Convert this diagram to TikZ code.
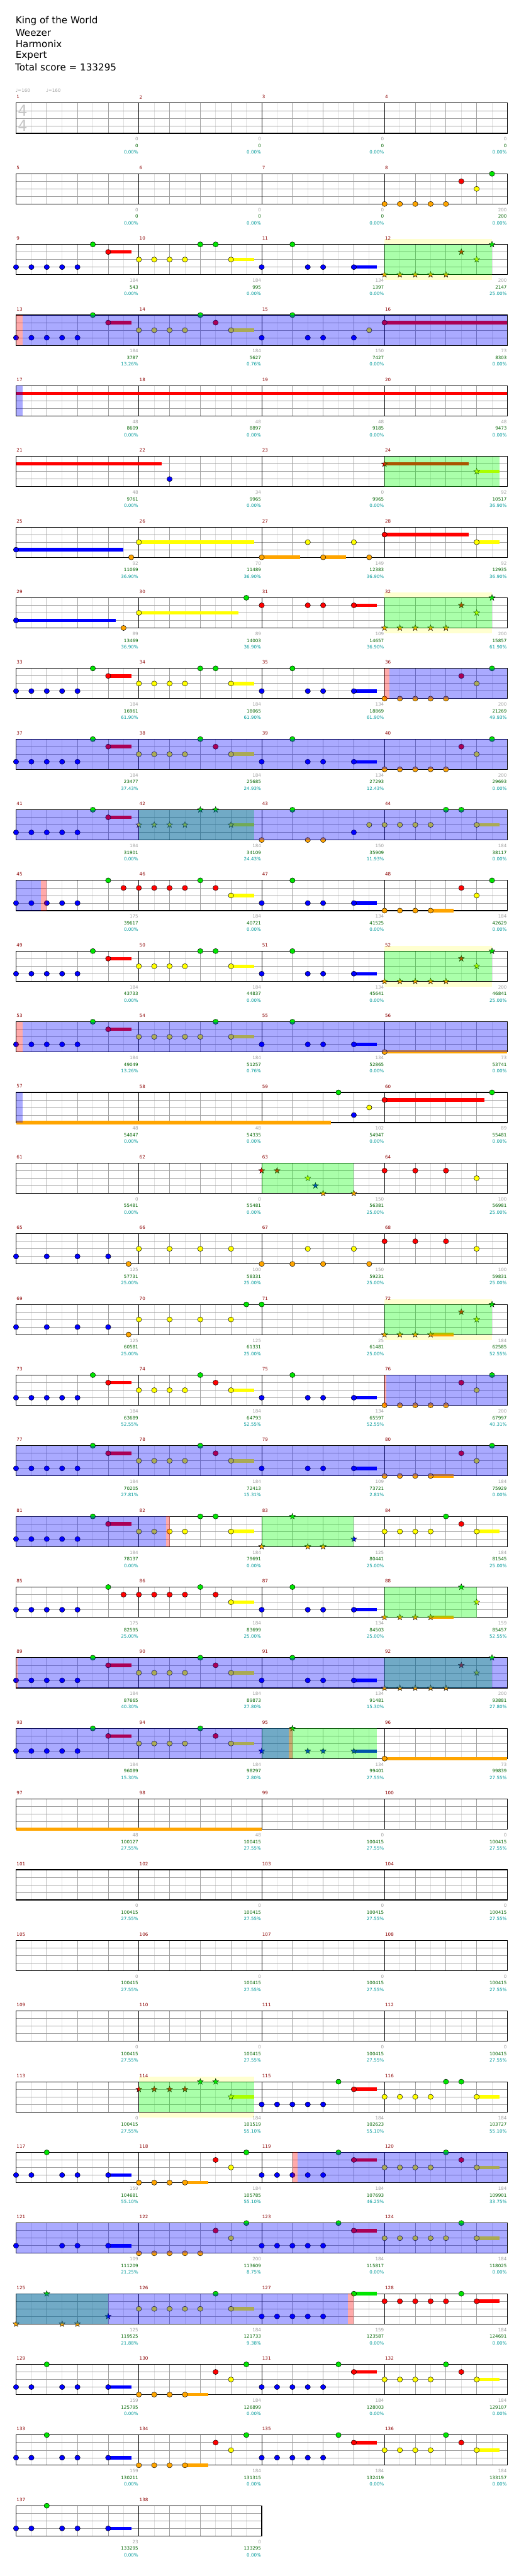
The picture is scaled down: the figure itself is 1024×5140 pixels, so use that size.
\documentclass[tikz,border=0pt]{standalone}
\usepackage{fontspec}
\setmainfont{DejaVu Sans}

\definecolor{noteG}{RGB}{0,230,0}
\definecolor{noteR}{RGB}{255,0,0}
\definecolor{noteY}{RGB}{255,255,0}
\definecolor{noteB}{RGB}{0,0,255}
\definecolor{noteO}{RGB}{255,165,0}
\definecolor{gridlight}{RGB}{224,224,224}
\definecolor{gridmid}{RGB}{160,160,160}
\definecolor{barred}{RGB}{139,0,0}
\definecolor{scoregray}{RGB}{160,160,160}
\definecolor{scoregreen}{RGB}{0,100,0}
\definecolor{scoreteal}{RGB}{0,153,153}
\definecolor{phraseyellow}{RGB}{255,255,208}

\newcommand{\labfont}{\fontsize{9}{10}\selectfont}
\def\laneG{0}\def\laneR{1}\def\laneY{2}\def\laneB{3}\def\laneO{4}

\tikzset{
  notehead/.style={draw=black, line width=0.6pt},
  starhead/.style={draw=black, line width=0.5pt, line join=miter},
  eighthline/.style={draw=gridlight, line width=0.8pt},
  beatline/.style={draw=gridmid, line width=0.9pt},
  laneline/.style={draw=gridmid, line width=1pt},
  barline/.style={draw=black, line width=0.9pt},
  staffframe/.style={draw=black, line width=1.4pt},
  titletext/.style={anchor=west, inner sep=0pt, font=\fontsize{19}{23}\selectfont},
  tempotext/.style={anchor=west, inner sep=0pt, font=\labfont, text=scoregray},
  barnum/.style={anchor=west, inner sep=0pt, font=\labfont, text=barred},
  gainlbl/.style={anchor=east, inner sep=0pt, font=\labfont, text=scoregray},
  totallbl/.style={anchor=east, inner sep=0pt, font=\labfont, text=scoregreen},
  pctlbl/.style={anchor=east, inner sep=0pt, font=\labfont, text=scoreteal}
}

% row layout: staff top of row r, lanes 15.07 apart, eighths 30.625 wide
\newcommand{\setrow}[1]{\pgfmathsetmacro{\rowtop}{205.7+141*#1}}
\newcommand{\staff}[1]{%
  \pgfmathsetmacro{\rowend}{32+245*#1}%
  \pgfmathtruncatemacro{\nlast}{8*#1-1}%
  \fill[white] (32,\rowtop) rectangle (\rowend,\rowtop+60.3);
  \foreach \e in {1,3,...,\nlast} \draw[eighthline] ({32+30.625*\e},\rowtop) -- ++(0,60.3);
  \foreach \e in {2,4,...,\nlast} \draw[beatline] ({32+30.625*\e},\rowtop) -- ++(0,60.3);
  \foreach \l in {1,2,3} \draw[laneline] (32,{\rowtop+15.07*\l}) -- (\rowend,{\rowtop+15.07*\l});
  \foreach \e in {8,16,...,\nlast} \draw[barline] ({32+30.625*\e},\rowtop) -- ++(0,60.3);
  \draw[staffframe] (32,\rowtop) rectangle (\rowend,\rowtop+60.3);}
\newcommand{\gems}[2]{\foreach \q in {#2} {\filldraw[fill=note#1, notehead] ({32+30.625*\q},{\rowtop+15.07*\csname lane#1\endcsname}) circle[x radius=5.3, y radius=5.1];}}
\newcommand{\stargems}[2]{\foreach \q in {#2} {\filldraw[fill=note#1, starhead] plot[variable=\vk, samples at={0,...,9}] ({32+30.625*\q+(4.45+1.85*cos(180*\vk))*sin(36*\vk)},{\rowtop+15.07*\csname lane#1\endcsname-(4.45+1.85*cos(180*\vk))*cos(36*\vk)}) -- cycle;}}
\newcommand{\sustail}[3]{\fill[note#1] ({32+30.625*(#2)},{\rowtop+15.07*\csname lane#1\endcsname-3.4}) rectangle ({32+30.625*(#3)},{\rowtop+15.07*\csname lane#1\endcsname+3.4});}
\newcommand{\sustain}[3]{\sustail{#1}{#2}{#3}\gems{#1}{#2}}
\newcommand{\starsustain}[3]{\sustail{#1}{#2}{#3}\stargems{#1}{#2}}
\newcommand{\phraseback}[2]{\fill[phraseyellow] ({32+30.625*(#1)},\rowtop-10.7) rectangle ({32+30.625*(#2)},\rowtop+71.3);}
\newcommand{\phrasezone}[2]{\fill[green, fill opacity=0.333] ({32+30.625*(#1)},\rowtop) rectangle ({32+30.625*(#2)},\rowtop+60.3);}
\newcommand{\odzone}[2]{\fill[blue, fill opacity=0.333] ({32+30.625*(#1)},\rowtop) rectangle ({32+30.625*(#2)},\rowtop+60.3);}
\newcommand{\cuezone}[2]{\fill[red, fill opacity=0.333] ({32+30.625*(#1)},\rowtop) rectangle ({32+30.625*(#2)},\rowtop+60.3);}
\newcommand{\barlabels}[2]{%
  \foreach \gain/\total/\pct [count=\m from 0] in {#2} {
    \pgfmathtruncatemacro{\barno}{#1+\m}
    \node[barnum] (bar\barno) at ({33+245*\m},\rowtop-12) {\barno};
    \node[gainlbl] (gain\barno) at ({31+245*(\m+1)},\rowtop+72) {\gain};
    \node[totallbl] (total\barno) at ({31+245*(\m+1)},\rowtop+85.3) {\total};
    \node[pctlbl] (pct\barno) at ({31+245*(\m+1)},\rowtop+98.3) {\pct};
  }}

\begin{document}
\begin{tikzpicture}[x=1pt,y=-1pt]
\fill[white] (0,0) rectangle (1024,5140);
\useasboundingbox (0,0) rectangle (1024,5140);

% Header
\node[titletext] (song) at (31,42) {King of the World};
\node[titletext] (artist) at (31,65) {Weezer};
\node[titletext] (author) at (31,88) {Harmonix};
\node[titletext] (level) at (31,111) {Expert};
\node[titletext] (score) at (30,134) {Total score = 133295};
\node[tempotext] (tempo1) at (31,181) {♩=160};
\node[tempotext] (tempo2) at (92,181) {♩=160};

% Bars 1-4
\setrow{0}
\staff{4}
\node[inner sep=0pt, font=\fontsize{30}{30}\selectfont, text=gray!45] (meter1) at (45,221) {4};
\node[inner sep=0pt, font=\fontsize{30}{30}\selectfont, text=gray!45] (meter2) at (45,251) {4};
\barlabels{1}{0/0/0.00\%, 0/0/0.00\%, 0/0/0.00\%, 0/0/0.00\%}

% Bars 5-8
\setrow{1}
\staff{4}
\gems{O}{24,25,26,27,28} \gems{R}{29} \gems{Y}{30} \gems{G}{31}
\barlabels{5}{0/0/0.00\%, 0/0/0.00\%, 0/0/0.00\%, 200/200/0.00\%}

% Bars 9-12
\setrow{2}
\phraseback{24}{31}
\staff{4}
\gems{B}{0,...,4} \gems{G}{5} \sustain{R}{6}{7.5} \gems{Y}{8,9,10,11} \gems{G}{12,13} \sustain{Y}{14}{15.5}
\gems{B}{16} \gems{G}{18} \gems{B}{19,20} \sustain{B}{22}{23.5}
\stargems{O}{24,25,26,27,28} \stargems{R}{29} \stargems{Y}{30} \stargems{G}{31}
\phrasezone{24}{31}
\barlabels{9}{184/543/0.00\%, 184/995/0.00\%, 134/1397/0.00\%, 200/2147/25.00\%}

% Bars 13-16
\setrow{3}
\staff{4}
\gems{B}{0,...,4} \gems{G}{5} \sustain{R}{6}{7.5} \gems{Y}{8,9,10,11} \gems{G}{12} \gems{R}{13} \sustain{Y}{14}{15.5}
\gems{B}{16} \gems{G}{18} \gems{B}{19,20,22} \gems{Y}{23} \sustain{R}{24}{32}
\odzone{0.42}{32} \cuezone{0}{0.42}
\barlabels{13}{184/3787/13.26\%, 184/5627/0.76\%, 150/7427/0.00\%, 73/8303/0.00\%}

% Bars 17-20
\setrow{4}
\staff{4}
\sustail{R}{0}{32}
\odzone{0}{0.42}
\barlabels{17}{48/8609/0.00\%, 48/8897/0.00\%, 48/9185/0.00\%, 48/9473/0.00\%}

% Bars 21-24
\setrow{5}
\staff{4}
\sustail{R}{0}{9.5} \gems{B}{10}
\starsustain{R}{24}{29.5} \starsustain{Y}{30}{31.5}
\phrasezone{24}{31.5}
\barlabels{21}{48/9761/0.00\%, 34/9965/0.00\%, 0/9965/0.00\%, 92/10517/36.90\%}

% Bars 25-28
\setrow{6}
\staff{4}
\sustain{B}{0}{7} \gems{O}{7.5} \sustain{Y}{8}{15.5} \sustain{O}{16}{18.5} \gems{Y}{19} \sustain{O}{20}{21.5}
\gems{Y}{22} \gems{O}{23} \sustain{R}{24}{29.5} \sustain{Y}{30}{31.5}
\barlabels{25}{92/11069/36.90\%, 70/11489/36.90\%, 149/12383/36.90\%, 92/12935/36.90\%}

% Bars 29-32
\setrow{7}
\phraseback{24}{31}
\staff{4}
\sustain{B}{0}{6.5} \gems{O}{7} \sustain{Y}{8}{14.5} \gems{G}{15} \gems{R}{16,19,20} \sustain{R}{22}{23.5}
\stargems{O}{24,25,26,27,28} \stargems{R}{29} \stargems{Y}{30} \stargems{G}{31}
\phrasezone{24}{31}
\barlabels{29}{89/13469/36.90\%, 89/14003/36.90\%, 109/14657/36.90\%, 200/15857/61.90\%}

% Bars 33-36
\setrow{8}
\staff{4}
\gems{B}{0,...,4} \gems{G}{5} \sustain{R}{6}{7.5} \gems{Y}{8,9,10,11} \gems{G}{12,13} \sustain{Y}{14}{15.5}
\gems{B}{16} \gems{G}{18} \gems{B}{19,20} \sustain{B}{22}{23.5}
\gems{O}{24,25,26,27,28} \gems{R}{29} \gems{Y}{30} \gems{G}{31}
\cuezone{24}{24.33} \odzone{24.33}{32}
\barlabels{33}{184/16961/61.90\%, 184/18065/61.90\%, 134/18869/61.90\%, 200/21269/49.93\%}

% Bars 37-40
\setrow{9}
\staff{4}
\gems{B}{0,...,4} \gems{G}{5} \sustain{R}{6}{7.5} \gems{Y}{8,9,10,11} \gems{G}{12} \gems{R}{13} \sustain{Y}{14}{15.5}
\gems{B}{16} \gems{G}{18} \gems{B}{19,20} \sustain{B}{22}{23.5}
\gems{O}{24,25,26,27,28} \gems{R}{29} \gems{Y}{30} \gems{G}{31}
\odzone{0}{32}
\barlabels{37}{184/23477/37.43\%, 184/25685/24.93\%, 134/27293/12.43\%, 200/29693/0.00\%}

% Bars 41-44
\setrow{10}
\staff{4}
\gems{B}{0,...,4} \gems{G}{5} \sustain{R}{6}{7.5}
\stargems{Y}{8,9,10,11} \stargems{G}{12,13} \starsustain{Y}{14}{15.5}
\gems{O}{16,19,20} \gems{G}{18} \gems{B}{22} \gems{Y}{23,24,25,26,27} \gems{G}{28,29} \sustain{Y}{30}{31.5}
\phrasezone{8}{15.5} \odzone{0}{32}
\barlabels{41}{184/31901/0.00\%, 184/34109/24.43\%, 150/35909/11.93\%, 184/38117/0.00\%}

% Bars 45-48
\setrow{11}
\staff{4}
\gems{B}{0,...,4} \gems{G}{6} \gems{R}{7,8,9,10,11,13} \gems{G}{12} \sustain{Y}{14}{15.5}
\gems{B}{16} \gems{G}{18} \gems{B}{19,20} \sustain{B}{22}{23.5}
\gems{O}{24,25,26} \sustain{O}{27}{28.5} \gems{R}{29} \gems{Y}{30} \gems{G}{31}
\odzone{0}{1.6} \cuezone{1.6}{2}
\barlabels{45}{175/39617/0.00\%, 184/40721/0.00\%, 134/41525/0.00\%, 184/42629/0.00\%}

% Bars 49-52
\setrow{12}
\phraseback{24}{31}
\staff{4}
\gems{B}{0,...,4} \gems{G}{5} \sustain{R}{6}{7.5} \gems{Y}{8,9,10,11} \gems{G}{12,13} \sustain{Y}{14}{15.5}
\gems{B}{16} \gems{G}{18} \gems{B}{19,20} \sustain{B}{22}{23.5}
\stargems{O}{24,25,26,27,28} \stargems{R}{29} \stargems{Y}{30} \stargems{G}{31}
\phrasezone{24}{31}
\barlabels{49}{184/43733/0.00\%, 184/44837/0.00\%, 134/45641/0.00\%, 200/46841/25.00\%}

% Bars 53-56
\setrow{13}
\staff{4}
\gems{B}{0,...,4} \gems{G}{5} \sustain{R}{6}{7.5} \gems{Y}{8,9,10,11,12} \gems{G}{13} \sustain{Y}{14}{15.5}
\gems{B}{16} \gems{G}{18} \gems{B}{19,20} \sustain{B}{22}{23.5} \sustain{O}{24}{32}
\odzone{0.42}{32} \cuezone{0}{0.42}
\barlabels{53}{184/49049/13.26\%, 184/51257/0.76\%, 134/52865/0.00\%, 73/53741/0.00\%}

% Bars 57-60
\setrow{14}
\staff{4}
\sustail{O}{0}{20.5} \gems{G}{21} \gems{B}{22} \gems{Y}{23} \sustain{R}{24}{30.5} \gems{G}{31}
\odzone{0}{0.42}
\barlabels{57}{48/54047/0.00\%, 48/54335/0.00\%, 102/54947/0.00\%, 89/55481/0.00\%}

% Bars 61-64
\setrow{15}
\staff{4}
\stargems{R}{16,17} \stargems{Y}{19} \stargems{B}{19.5} \stargems{O}{20,22}
\phrasezone{16}{22}
\gems{R}{24,26,28} \gems{Y}{30}
\barlabels{61}{0/55481/0.00\%, 0/55481/0.00\%, 150/56381/25.00\%, 100/56981/25.00\%}

% Bars 65-68
\setrow{16}
\staff{4}
\gems{B}{0,2,4,6} \gems{O}{7.33} \gems{Y}{8,10,12,14} \gems{O}{16,18,20} \gems{Y}{19,22} \gems{O}{23}
\gems{R}{24,26,28} \gems{Y}{30}
\barlabels{65}{125/57731/25.00\%, 100/58331/25.00\%, 150/59231/25.00\%, 100/59831/25.00\%}

% Bars 69-72
\setrow{17}
\phraseback{24}{31}
\staff{4}
\gems{B}{0,2,4,6} \gems{O}{7.33} \gems{Y}{8,10,12,14} \gems{G}{15,16}
\stargems{O}{24,25,26} \starsustain{O}{27}{28.5} \stargems{R}{29} \stargems{Y}{30} \stargems{G}{31}
\phrasezone{24}{31}
\barlabels{69}{125/60581/25.00\%, 125/61331/25.00\%, 25/61481/25.00\%, 184/62585/52.55\%}

% Bars 73-76
\setrow{18}
\staff{4}
\gems{B}{0,...,4} \gems{G}{5} \sustain{R}{6}{7.5} \gems{Y}{8,9,10,11} \gems{G}{12} \gems{R}{13} \sustain{Y}{14}{15.5}
\gems{B}{16} \gems{G}{18} \gems{B}{19,20} \sustain{B}{22}{23.5}
\gems{O}{24,25,26,27,28} \gems{R}{29} \gems{Y}{30} \gems{G}{31}
\cuezone{24}{24.1} \odzone{24.1}{32}
\barlabels{73}{184/63689/52.55\%, 184/64793/52.55\%, 134/65597/52.55\%, 200/67997/40.31\%}

% Bars 77-80
\setrow{19}
\staff{4}
\gems{B}{0,...,4} \gems{G}{5} \sustain{R}{6}{7.5} \gems{Y}{8,9,10,11} \gems{G}{12} \gems{R}{13} \sustain{Y}{14}{15.5}
\gems{B}{16,19,20} \sustain{B}{22}{23.5}
\gems{O}{24,25,26} \sustain{O}{27}{28.5} \gems{R}{29} \gems{Y}{30} \gems{G}{31}
\odzone{0}{32}
\barlabels{77}{184/70205/27.81\%, 184/72413/15.31\%, 109/73721/2.81\%, 184/75929/0.00\%}

% Bars 81-84
\setrow{20}
\staff{4}
\gems{B}{0,...,4} \gems{G}{5} \sustain{R}{6}{7.5} \gems{Y}{8,9,10,11} \gems{G}{12,13} \sustain{Y}{14}{15.5}
\stargems{O}{16,19,20} \stargems{G}{18} \stargems{B}{22}
\phrasezone{16}{22}
\gems{Y}{24,25,26,27} \gems{G}{28} \gems{R}{29} \sustain{Y}{30}{31.5}
\odzone{0}{9.77} \cuezone{9.77}{10}
\barlabels{81}{184/78137/0.00\%, 184/79691/0.00\%, 125/80441/25.00\%, 184/81545/25.00\%}

% Bars 85-88
\setrow{21}
\staff{4}
\gems{B}{0,...,4} \gems{G}{6} \gems{R}{7,8,9,10,11,13} \gems{G}{12} \sustain{Y}{14}{15.5}
\gems{B}{16} \gems{G}{18} \gems{B}{19,20} \sustain{B}{22}{23.5}
\stargems{O}{24,25,26} \starsustain{O}{27}{28.5} \stargems{G}{29} \stargems{Y}{30}
\phrasezone{24}{30}
\barlabels{85}{175/82595/25.00\%, 184/83699/25.00\%, 134/84503/25.00\%, 159/85457/52.55\%}

% Bars 89-92
\setrow{22}
\staff{4}
\gems{B}{0,...,4} \gems{G}{5} \sustain{R}{6}{7.5} \gems{Y}{8,9,10,11} \gems{G}{12} \gems{R}{13} \sustain{Y}{14}{15.5}
\gems{B}{16} \gems{G}{18} \gems{B}{19,20} \sustain{B}{22}{23.5}
\stargems{O}{24,25,26,27,28} \stargems{R}{29} \stargems{Y}{30} \stargems{G}{31}
\phrasezone{24}{31} \cuezone{0}{0.1} \odzone{0.1}{32}
\barlabels{89}{184/87665/40.30\%, 184/89873/27.80\%, 134/91481/15.30\%, 200/93881/27.80\%}

% Bars 93-96
\setrow{23}
\staff{4}
\gems{B}{0,...,4} \gems{G}{5} \sustain{R}{6}{7.5} \gems{Y}{8,9,10,11} \gems{G}{12} \gems{R}{13} \sustain{Y}{14}{15.5}
\stargems{B}{16,19,20} \stargems{G}{18} \starsustain{B}{22}{23.5} \sustain{O}{24}{32}
\phrasezone{16}{23.5} \odzone{0}{17.78} \cuezone{17.78}{18}
\barlabels{93}{184/96089/15.30\%, 184/98297/2.80\%, 134/99401/27.55\%, 73/99839/27.55\%}

% Bars 97-100
\setrow{24}
\staff{4}
\sustail{O}{0}{16}
\barlabels{97}{48/100127/27.55\%, 48/100415/27.55\%, 0/100415/27.55\%, 0/100415/27.55\%}

% Bars 101-112
\setrow{25}
\staff{4}
\barlabels{101}{0/100415/27.55\%, 0/100415/27.55\%, 0/100415/27.55\%, 0/100415/27.55\%}
\setrow{26}
\staff{4}
\barlabels{105}{0/100415/27.55\%, 0/100415/27.55\%, 0/100415/27.55\%, 0/100415/27.55\%}
\setrow{27}
\staff{4}
\barlabels{109}{0/100415/27.55\%, 0/100415/27.55\%, 0/100415/27.55\%, 0/100415/27.55\%}

% Bars 113-116
\setrow{28}
\phraseback{8}{15.5}
\staff{4}
\stargems{R}{8,9,10,11} \stargems{G}{12,13} \starsustain{Y}{14}{15.5}
\phrasezone{8}{15.5}
\gems{B}{16,17,18,19,20} \gems{G}{21} \sustain{R}{22}{23.5} \gems{Y}{24,25,26,27} \gems{G}{28,29} \sustain{Y}{30}{31.5}
\barlabels{113}{0/100415/27.55\%, 184/101519/55.10\%, 184/102623/55.10\%, 184/103727/55.10\%}

% Bars 117-120
\setrow{29}
\staff{4}
\gems{B}{0,1,3,4} \gems{G}{2} \sustain{B}{6}{7.5} \gems{O}{8,9,10} \sustain{O}{11}{12.5} \gems{R}{13} \gems{Y}{14} \gems{G}{15}
\gems{B}{16,17,18,19,20} \gems{G}{21} \sustain{R}{22}{23.5} \gems{Y}{24,25,26,27} \gems{G}{28} \gems{R}{29} \sustain{Y}{30}{31.5}
\cuezone{18}{18.33} \odzone{18.33}{32}
\barlabels{117}{159/104681/55.10\%, 184/105785/55.10\%, 184/107693/46.25\%, 184/109901/33.75\%}

% Bars 121-124
\setrow{30}
\staff{4}
\gems{B}{0,3,4} \sustain{B}{6}{7.5} \gems{O}{8,9,10,11,12} \gems{R}{13} \gems{Y}{14} \gems{G}{15}
\gems{B}{16,17,18,19,20} \gems{G}{21} \sustain{R}{22}{23.5} \gems{Y}{24,25,26,27,28} \gems{G}{29} \sustain{Y}{30}{31.5}
\odzone{0}{32}
\barlabels{121}{109/111209/21.25\%, 200/113609/8.75\%, 184/115817/0.00\%, 184/118025/0.00\%}

% Bars 125-128
\setrow{31}
\staff{4}
\stargems{O}{0,3,4} \stargems{G}{2} \stargems{B}{6}
\gems{Y}{8,9,10,11,12} \gems{G}{13} \sustain{Y}{14}{15.5} \gems{B}{16,17,18,19,20} \sustain{G}{22}{23.5}
\gems{R}{24,25,26,27,28} \gems{G}{29} \sustain{R}{30}{31.5}
\phrasezone{0}{6} \odzone{0}{21.6} \cuezone{21.6}{22}
\barlabels{125}{125/119525/21.88\%, 184/121733/9.38\%, 159/123587/0.00\%, 184/124691/0.00\%}

% Bars 129-132
\setrow{32}
\staff{4}
\gems{B}{0,1,3,4} \gems{G}{2} \sustain{B}{6}{7.5} \gems{O}{8,9,10} \sustain{O}{11}{12.5} \gems{R}{13} \gems{Y}{14} \gems{G}{15}
\gems{B}{16,17,18,19,20} \gems{G}{21} \sustain{R}{22}{23.5} \gems{Y}{24,25,26,27} \gems{G}{28} \gems{R}{29} \sustain{Y}{30}{31.5}
\barlabels{129}{159/125795/0.00\%, 184/126899/0.00\%, 184/128003/0.00\%, 184/129107/0.00\%}

% Bars 133-136
\setrow{33}
\staff{4}
\gems{B}{0,1,3,4} \gems{G}{2} \sustain{B}{6}{7.5} \gems{O}{8,9,10} \sustain{O}{11}{12.5} \gems{R}{13} \gems{Y}{14} \gems{G}{15}
\gems{B}{16,17,18,19,20} \gems{G}{21} \sustain{R}{22}{23.5} \gems{Y}{24,25,26,27} \gems{G}{28} \gems{R}{29} \sustain{Y}{30}{31.5}
\barlabels{133}{159/130211/0.00\%, 184/131315/0.00\%, 184/132419/0.00\%, 184/133157/0.00\%}

% Bars 137-138
\setrow{34}
\staff{2}
\gems{B}{0,1,3,4} \gems{G}{2} \sustain{B}{6}{7.5}
\barlabels{137}{23/133295/0.00\%, 0/133295/0.00\%}
\end{tikzpicture}
\end{document}
